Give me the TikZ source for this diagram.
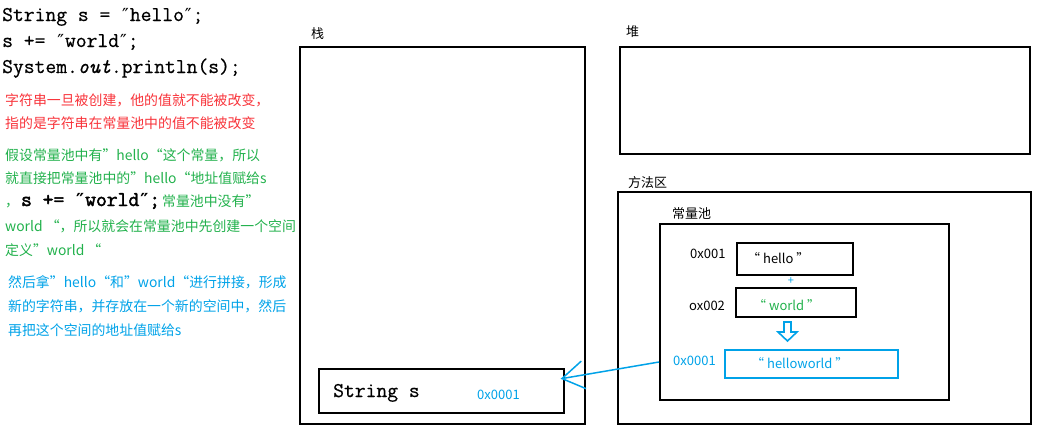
\documentclass[tikz,border=0pt]{standalone}
\usepackage{fontspec}
\setmainfont{Noto Sans CJK SC}
\newfontfamily\codefont[FakeBold=0.6]{Latin Modern Mono}
\newfontfamily\codeboldfont[FakeBold=2.2]{Latin Modern Mono}
\newfontfamily\qfont{DejaVu Sans}
\newcommand{\dq}{{\qfont\fontsize{18}{20}\selectfont\kern1pt″\kern1pt}}
\newcommand{\dqb}{{\qfont\bfseries\fontsize{18}{20}\selectfont\kern1pt″\kern1pt}}
\usetikzlibrary{arrows.meta}
\definecolor{cred}{HTML}{F8333A}
\definecolor{cgreen}{HTML}{22B14C}
\definecolor{cblue}{HTML}{00A2E8}
\tikzset{
  box/.style={draw, line width=1.6pt, inner sep=0pt, anchor=north west},
  txt/.style={inner sep=0pt, anchor=base west, font=\fontsize{13.9}{16}\selectfont},
  lbl/.style={inner sep=0pt, anchor=base west, font=\fontsize{13}{16}\selectfont},
  code/.style={inner sep=0pt, anchor=base west, font=\codefont\fontsize{21}{22}\selectfont},
}
\begin{document}
\begin{tikzpicture}[x=1pt,y=-1pt]
\useasboundingbox (0,0) rectangle (1039,429);
% code
\node[code] (c1) at (2,21) {String s = \dq hello\dq;};
\node[code] (c2) at (2,47) {s += \dq world\dq;};
\node[code] (c3) at (2,73) {System.{\itshape out}.println(s);};
% red
\node[txt, text=cred] (r1) at (5,105) {字符串一旦被创建，他的值就不能被改变，};
\node[txt, text=cred] (r2) at (5,128) {指的是字符串在常量池中的值不能被改变};
% green
\node[txt, text=cgreen] (g1) at (5,160) {假设常量池中有”hello“这个常量，所以};
\node[txt, text=cgreen] (g2) at (5,183) {就直接把常量池中的”hello“地址值赋给s};
\node[txt, text=cgreen] (g3) at (5,206) {，\kern2pt{\codeboldfont\fontsize{21}{22}\selectfont\color{black}s += \dqb world\dqb;}\kern2pt常量池中没有”};
\node[txt, text=cgreen] (g4) at (5,231) {world “，所以就会在常量池中先创建一个空间};
\node[txt, text=cgreen] (g5) at (5,255) {定义”world “};
% blue
\node[txt, text=cblue] (b1) at (8,287) {然后拿”hello“和”world“进行拼接，形成};
\node[txt, text=cblue] (b2) at (8,311) {新的字符串，并存放在一个新的空间中，然后};
\node[txt, text=cblue] (b3) at (8,335) {再把这个空间的地址值赋给s};
% stack
\node[box, minimum width=285pt, minimum height=377pt] (stack) at (299,46) {};
\node[lbl] (stackl) at (311,38) {栈};
\node[box, minimum width=245pt, minimum height=44pt] (sbox) at (318,368) {};
\node[code] (stext) at (333,397) {String s};
\node[lbl, text=cblue] (saddr) at (477,399) {0x0001};
% heap
\node[box, minimum width=410pt, minimum height=107pt] (heap) at (619,46) {};
\node[lbl] (heapl) at (626,36) {堆};
% method area
\node[box, minimum width=413pt, minimum height=232pt] (method) at (617,191) {};
\node[lbl] (methodl) at (628,187) {方法区};
\node[box, minimum width=289pt, minimum height=176pt] (pool) at (659,223) {};
\node[lbl] (pooll) at (672,218) {常量池};
% hello
\node[box, minimum width=116pt, minimum height=32pt] (hbox) at (736,242) {};
\node[lbl] (htext) at (747,263) {“ hello ”};
\node[lbl] (haddr) at (690,258) {0x001};
\node[inner sep=0pt, text=cblue, font=\fontsize{11}{11}\selectfont] (plus) at (791,281) {+};
% world
\node[box, minimum width=120pt, minimum height=29pt] (wbox) at (735,287) {};
\node[lbl, text=cgreen] (wtext) at (753,310) {“ world ”};
\node[lbl] (waddr) at (689,310) {ox002};
% hollow arrow
\draw[cblue, line width=1.6pt, line join=miter] (784,322) -- (791,322) -- (791,332) -- (797,332) -- (787.5,341) -- (778,332) -- (784,332) -- cycle;
% helloworld
\node[box, draw=cblue, minimum width=173pt, minimum height=28pt] (hwbox) at (724,349) {};
\node[lbl, text=cblue] (hwtext) at (751,368) {“ helloworld ”};
\node[lbl, text=cblue] (hwaddr) at (673,365) {0x0001};
% connector
\coordinate (src) at (pool.west |- 0,362);
\coordinate (tip) at ([xshift=-4pt,yshift=12pt]sbox.east);
\draw[cblue, line width=1.5pt, -{Straight Barb[length=22pt,width=28pt,line width=1.5pt]}] (src) -- (tip);
\end{tikzpicture}
\end{document}
